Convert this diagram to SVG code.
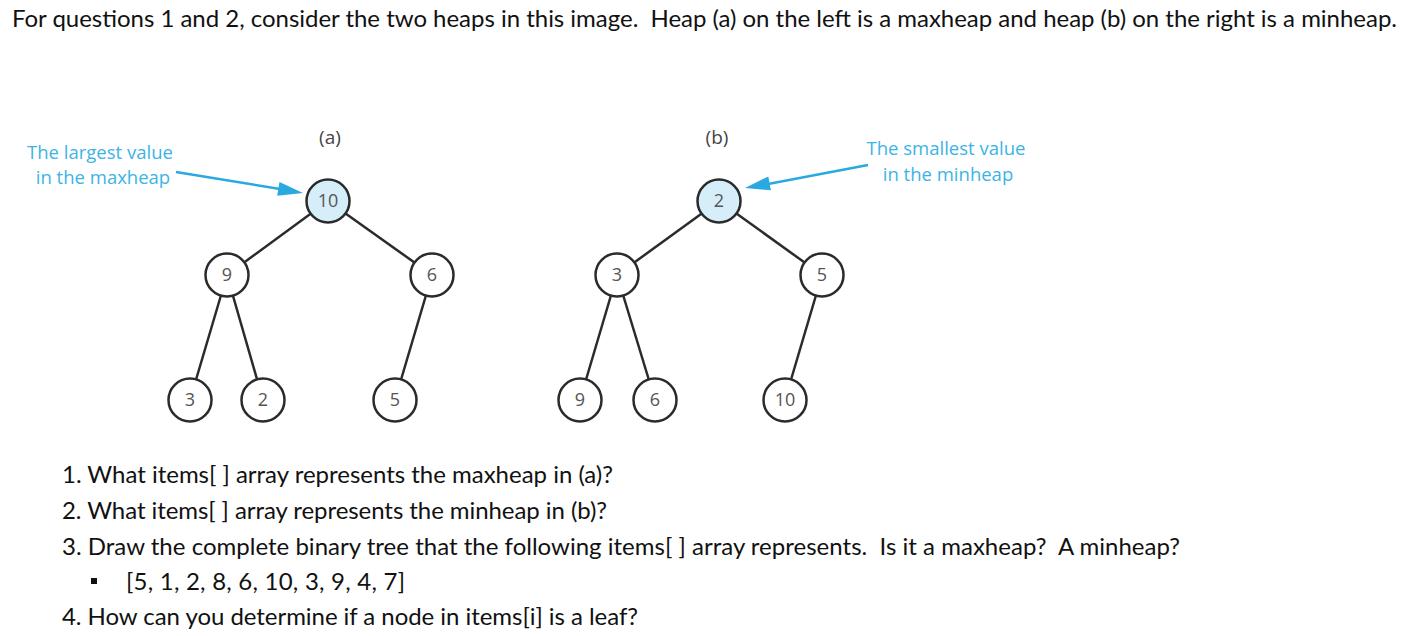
<svg xmlns="http://www.w3.org/2000/svg" width="1403" height="636" viewBox="0 0 1403 636">
<style>
.q{font-family:Lato,"Liberation Sans",sans-serif;font-size:24px;fill:#111;white-space:pre}
.lbl{font-family:"Open Sans","Liberation Sans",sans-serif;font-size:18.5px;fill:#3cb3e6;text-anchor:middle}
.cap{font-family:"Open Sans","Liberation Sans",sans-serif;font-size:19px;fill:#444;text-anchor:middle}
.n circle{fill:#fff;stroke:#2b2b2b;stroke-width:2.5}
.n.root circle{fill:#d5eef9}
.n text{font-family:"Open Sans","Liberation Sans",sans-serif;font-size:18px;fill:#555;text-anchor:middle}
.e line{stroke:#2b2b2b;stroke-width:2.5}
.arr{stroke:#2aa9e0;stroke-width:2.5;fill:none}
.ah{fill:#2aa9e0}
</style>
<rect width="1403" height="636" fill="#fff"/>
<text class="q" x="12" y="27" xml:space="preserve" textLength="1385" lengthAdjust="spacing">For questions 1 and 2, consider the two heaps in this image.  Heap (a) on the left is a maxheap and heap (b) on the right is a minheap.</text>
<text class="cap" x="330" y="144">(a)</text>
<text class="cap" x="717" y="144">(b)</text>
<text class="lbl" x="100" y="159">The largest value</text>
<text class="lbl" x="103" y="184">in the maxheap</text>
<text class="lbl" x="946" y="155">The smallest value</text>
<text class="lbl" x="948" y="181">in the minheap</text>
<g id="connectors">
<g class="e">
<line x1="328" y1="201" x2="227" y2="275"/>
<line x1="328" y1="201" x2="432" y2="275"/>
<line x1="227" y1="275" x2="190" y2="400"/>
<line x1="227" y1="275" x2="263" y2="400"/>
<line x1="432" y1="275" x2="395" y2="400"/>
<line x1="719" y1="201" x2="617" y2="275"/>
<line x1="719" y1="201" x2="822" y2="275"/>
<line x1="617" y1="275" x2="580" y2="400"/>
<line x1="617" y1="275" x2="655" y2="400"/>
<line x1="822" y1="275" x2="785" y2="400"/>
</g>
<line class="arr" x1="176" y1="172" x2="280" y2="189"/>
<polygon class="ah" points="303,193 277.2,195.8 279.5,182"/>
<line class="arr" x1="868" y1="165" x2="768" y2="184"/>
<polygon class="ah" points="745,188 770.9,190.3 768.3,176.5"/>
</g>
<g id="a10" class="n root"><circle cx="328" cy="201" r="21.5"/><text x="328" y="207">10</text></g>
<g id="a9" class="n"><circle cx="227" cy="275" r="21.5"/><text x="227" y="281">9</text></g>
<g id="a6" class="n"><circle cx="432" cy="275" r="21.5"/><text x="432" y="281">6</text></g>
<g id="a3" class="n"><circle cx="190" cy="400" r="21.5"/><text x="190" y="406">3</text></g>
<g id="a2" class="n"><circle cx="263" cy="400" r="21.5"/><text x="263" y="406">2</text></g>
<g id="a5" class="n"><circle cx="395" cy="400" r="21.5"/><text x="395" y="406">5</text></g>
<g id="b2" class="n root"><circle cx="719" cy="201" r="21.5"/><text x="719" y="207">2</text></g>
<g id="b3" class="n"><circle cx="617" cy="275" r="21.5"/><text x="617" y="281">3</text></g>
<g id="b5" class="n"><circle cx="822" cy="275" r="21.5"/><text x="822" y="281">5</text></g>
<g id="b9" class="n"><circle cx="580" cy="400" r="21.5"/><text x="580" y="406">9</text></g>
<g id="b6" class="n"><circle cx="655" cy="400" r="21.5"/><text x="655" y="406">6</text></g>
<g id="b10" class="n"><circle cx="785" cy="400" r="21.5"/><text x="785" y="406">10</text></g>
<text class="q" x="62" y="483" xml:space="preserve" textLength="551" lengthAdjust="spacing">1. What items[ ] array represents the maxheap in (a)?</text>
<text class="q" x="62" y="519" xml:space="preserve" textLength="545" lengthAdjust="spacing">2. What items[ ] array represents the minheap in (b)?</text>
<text class="q" x="62" y="555" xml:space="preserve" textLength="1118" lengthAdjust="spacing">3. Draw the complete binary tree that the following items[ ] array represents.  Is it a maxheap?  A minheap?</text>
<rect x="91" y="578" width="6" height="6" fill="#111"/>
<text class="q" x="126" y="590" xml:space="preserve" textLength="279" lengthAdjust="spacing">[5, 1, 2, 8, 6, 10, 3, 9, 4, 7]</text>
<text class="q" x="62" y="625" xml:space="preserve" textLength="576" lengthAdjust="spacing">4. How can you determine if a node in items[i] is a leaf?</text>
</svg>
